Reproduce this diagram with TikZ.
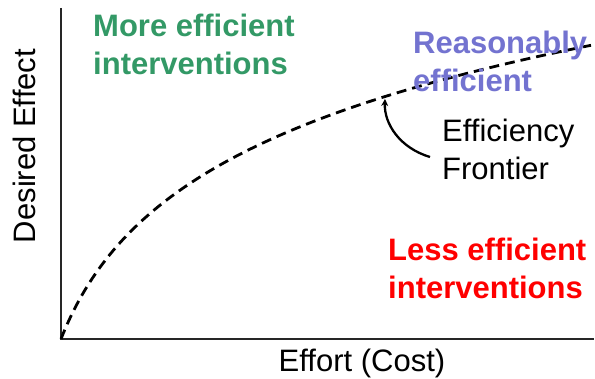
\documentclass[tikz,border=0pt]{standalone}
\usepackage{fontspec}
\setmainfont{Liberation Sans}
\usetikzlibrary{arrows.meta}
\definecolor{effgreen}{HTML}{339966}
\definecolor{efflav}{HTML}{7373D0}
\definecolor{effred}{HTML}{FF0000}
\tikzset{
  lbl/.style={inner sep=0pt, anchor=base west, align=left, font=\fontsize{31}{38}\selectfont},
  boldlbl/.style={lbl, font=\fontsize{31}{38}\selectfont\bfseries},
  axis/.style={line width=1.6pt, black!85},
  frontier/.style={line width=2.8pt, dash pattern=on 10pt off 6pt},
  pointer/.style={line width=2.3pt, -{Stealth[length=7pt,width=7pt]}}
}
\begin{document}
\begin{tikzpicture}[x=1pt,y=-1pt]
\useasboundingbox (0,0) rectangle (595,379);
% axes
\coordinate (origin) at (61,339);
\coordinate (ytop) at (61,8);
\coordinate (xend) at (594,339);
\draw[axis] (ytop) -- (origin) -- (xend);
% frontier curve
\draw[frontier] plot[domain=0:530, samples=160, smooth] ({61+\x},{339-115.7*ln(1+0.022*\x)});
% labels (anchor is the baseline of the last line)
\node[boldlbl, text=effgreen] (more) at (93,75) {More efficient\\interventions};
\node[boldlbl, text=efflav] (reas) at (413,92) {Reasonably\\efficient};
\node[boldlbl, text=effred] (less) at (388,299) {Less efficient\\interventions};
\node[lbl] (eff) at (442,180) {Efficiency\\Frontier};
\node[inner sep=0pt, anchor=base, rotate=90, font=\fontsize{31}{38}\selectfont] (ylab) at (35,146) {Desired Effect};
\node[inner sep=0pt, anchor=base, font=\fontsize{31}{38}\selectfont] (xlab) at (362,372) {Effort (Cost)};
% pointer
\coordinate (ptstart) at (430,157);
\coordinate (pttip) at (385,99);
\draw[pointer] (ptstart) .. controls (400,148) and (384,124) .. (pttip);
\end{tikzpicture}
\end{document}
